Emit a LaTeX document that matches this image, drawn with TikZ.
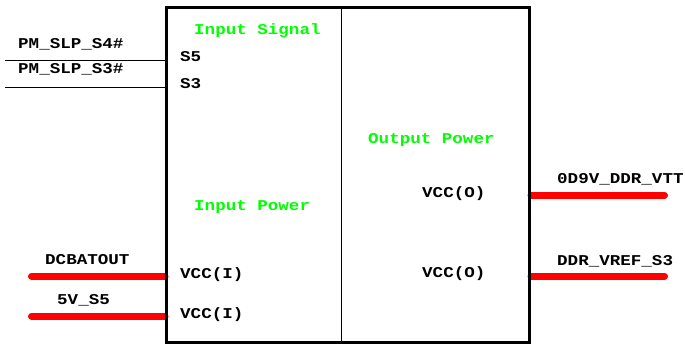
\documentclass[tikz,border=0pt]{standalone}
\usepackage{fontspec}
\setmonofont{Liberation Mono}[FakeStretch=1.17]
\usepackage{tikz}
\usetikzlibrary{positioning, calc}
\definecolor{pinred}{RGB}{255,0,0}
\definecolor{grpgreen}{RGB}{0,255,0}
\tikzset{
  pinlabel/.style={font=\ttfamily\bfseries\fontsize{15}{15}\selectfont,
    inner sep=0pt, anchor=base west},
  grouplabel/.style={pinlabel, text=grpgreen},
  sigwire/.style={line width=1pt, color=black},
  pwrwire/.style={line width=7pt, color=pinred, line cap=round},
  chipbox/.style={rectangle, draw, line width=3pt, inner sep=0pt,
    minimum width=363pt, minimum height=334.5pt}
}
\begin{document}
\begin{tikzpicture}[x=1pt, y=-1pt]
  \useasboundingbox (0,0) rectangle (685,350);

  % Wire end points
  \coordinate (slps4) at (5,60.7);
  \coordinate (slps3) at (5,87.7);
  \coordinate (dcbat) at (31.5,276);
  \coordinate (vfive) at (31.5,316);
  \coordinate (vtt) at (664.5,195);
  \coordinate (vref) at (664.5,276);

  % Chip body (drawn as a path first so the power wires can end on it)
  \path node[chipbox] (chip) at (348,174.75) {};

  % Power wires sit under the chip border
  \draw[pwrwire] (dcbat) -- (dcbat -| chip.west);
  \draw[pwrwire] (vfive) -- (vfive -| chip.west);
  \draw[pwrwire] (vtt) -- (vtt -| chip.east);
  \draw[pwrwire] (vref) -- (vref -| chip.east);

  % Redraw border and the divider between input and output side
  \node[chipbox] at (chip) {};
  \draw[line width=1.5pt] (chip.north) ++(-6.75,0) coordinate (divtop)
    (divtop) -- (divtop |- chip.south);

  % Signal wires
  \draw[sigwire] (slps4) -- (slps4 -| chip.west);
  \draw[sigwire] (slps3) -- (slps3 -| chip.west);

  % Net names
  \node[pinlabel] (n1) at (18,48.5) {PM\_SLP\_S4\#};
  \node[pinlabel] (n2) at (18,73.5) {PM\_SLP\_S3\#};
  \node[pinlabel] (n3) at (45,264) {DCBATOUT};
  \node[pinlabel] (n4) at (57,304) {5V\_S5};
  \node[pinlabel] (n5) at (557,183) {0D9V\_DDR\_VTT};
  \node[pinlabel] (n6) at (557,265) {DDR\_VREF\_S3};

  % Pin names
  \node[pinlabel] (p1) at (180,62) {S5};
  \node[pinlabel] (p2) at (180,88.5) {S3};
  \node[pinlabel] (p3) at (180,278) {VCC(I)};
  \node[pinlabel] (p4) at (180,318) {VCC(I)};
  \node[pinlabel] (p5) at (422,197) {VCC(O)};
  \node[pinlabel] (p6) at (422,277) {VCC(O)};

  % Group headings
  \node[grouplabel] (g1) at (194,35) {Input Signal};
  \node[grouplabel] (g2) at (194,210) {Input Power};
  \node[grouplabel] (g3) at (368,143) {Output Power};
\end{tikzpicture}
\end{document}
